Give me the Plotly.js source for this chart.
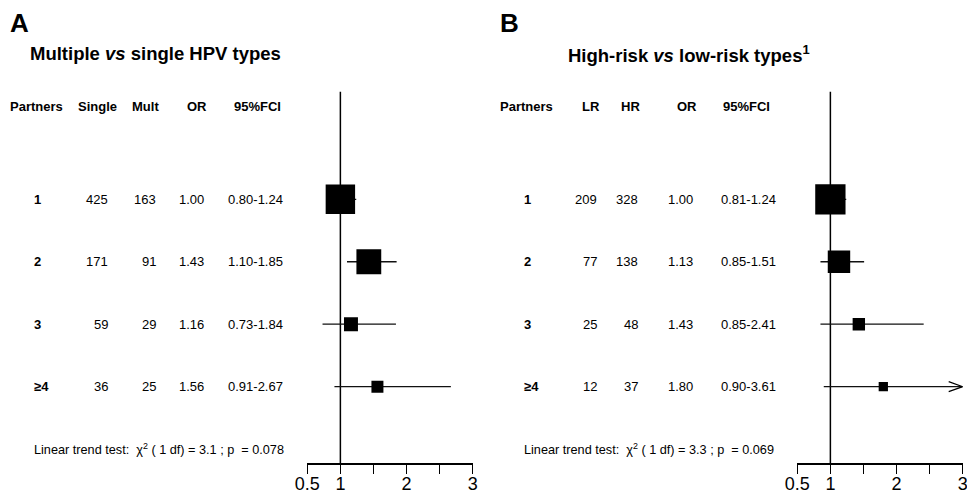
<!DOCTYPE html>
<html>
<head>
<meta charset="utf-8">
<script src="https://cdn.plot.ly/plotly-3.0.1.min.js"></script>
<style>html,body{margin:0;padding:0;background:#fff;}#chart{width:967px;height:496px;}</style>
</head>
<body>
<div id="chart"></div>
<script>
// ---------- data ----------
const partners = ["1", "2", "3", "≥4"];
// Panel A: multiple vs single HPV types
const singleCounts = [425, 171, 59, 36];
const multCounts = [163, 91, 29, 25];
const orA = [1.00, 1.43, 1.16, 1.56];
const loA = [0.80, 1.10, 0.73, 0.91];
const hiA = [1.24, 1.85, 1.84, 2.67];
const trendChi2A = "3.1";
const trendPA = "0.078";
// Panel B: high-risk vs low-risk types
const lrCounts = [209, 77, 25, 12];
const hrCounts = [328, 138, 48, 37];
const orB = [1.00, 1.13, 1.43, 1.80];
const loB = [0.81, 0.85, 0.85, 0.90];
const hiB = [1.24, 1.51, 2.41, 3.61];
const trendChi2B = "3.3";
const trendPB = "0.069";
// axis
const xRange = [0.5, 3];
const xTickVals = [0.5, 1, 2, 3];
const xTickText = ["0.5", "1", "2", "3"];
const xMinorStep = 0.5;

// ---------- layout helpers ----------
const W = 967, H = 496;
const FONT = "Liberation Sans, Arial, Helvetica, sans-serif";
const X = px => px / W;
const Y = px => 1 - px / H;
const rows = partners.map((_, i) => i + 1);

const annotations = [];
function txt(text, xpx, yval, yref, anchor, size, bold) {
  annotations.push({
    text: text, xref: "paper", x: X(xpx), yref: yref, y: yval,
    xanchor: anchor, yanchor: "middle", showarrow: false,
    font: {family: FONT, size: size, color: "#000", weight: bold ? "bold" : "normal"},
    borderpad: 0
  });
}

function panel(off, letter, title, titleX, heads, col1, col2, or, lo, hi, chi2, p) {
  txt(letter, 9 + off, Y(23), "paper", "left", 26, true);
  txt(title, titleX, Y(53.5), "paper", "left", 18.5, true);
  heads.forEach(h => txt(h[0], h[1] + off, Y(106.5), "paper", "left", 13, true));
  rows.forEach((r, i) => {
    txt(partners[i], 33 + off, r, "y", "left", 13, true);
    txt(String(col1[i]), col1.right + off, r, "y", "right", 13, false);
    txt(String(col2[i]), col2.right + off, r, "y", "right", 13, false);
    txt(or[i].toFixed(2), 205 + off - (off ? 1 : 0), r, "y", "right", 13, false);
    txt(lo[i].toFixed(2) + "-" + hi[i].toFixed(2), 227 + off + (off ? 3 : 0), r, "y", "left", 13, false);
  });
  txt("Linear trend test:  χ<sup>2</sup> ( 1 df) = " + chi2 + " ; p  = " + p,
      33 + off, Y(449), "paper", "left", 12.7, false);
}

const cA1 = singleCounts.slice(); cA1.right = 108.5;
const cA2 = multCounts.slice(); cA2.right = 157;
const cB1 = lrCounts.slice(); cB1.right = 108.3;
const cB2 = hrCounts.slice(); cB2.right = 149;

panel(0, "A", "Multiple <i>vs</i> single HPV types", 29,
  [["Partners", 9], ["Single", 77], ["Mult", 131], ["OR", 186], ["95%FCI", 233]],
  cA1, cA2, orA, loA, hiA, trendChi2A, trendPA);
panel(490, "B", "High-risk <i>vs</i> low-risk types<sup>1</sup>", 567,
  [["Partners", 9], ["LR", 90.7], ["HR", 130], ["OR", 186], ["95%FCI", 232]],
  cB1, cB2, orB, loB, hiB, trendChi2B, trendPB);

// marker size ~ inverse-variance weight (side ∝ 1/SE of log OR)
const boxSize = (lo, hi) => lo.map((l, i) => 12.9 / Math.log(hi[i] / l));

function ciTrace(lo, hi, xa) {
  const xs = [], ys = [];
  lo.forEach((l, i) => { xs.push(l, Math.min(hi[i], xRange[1]), null); ys.push(rows[i], rows[i], null); });
  return {type: "scatter", mode: "lines", xaxis: xa, yaxis: "y", x: xs, y: ys,
          line: {color: "#111", width: 1.3}, hoverinfo: "skip", showlegend: false};
}
function boxTrace(or, lo, hi, xa) {
  return {type: "scatter", mode: "markers", xaxis: xa, yaxis: "y", x: or, y: rows,
          marker: {symbol: "square", color: "#000", opacity: 1, size: boxSize(lo, hi), line: {width: 0}},
          hoverinfo: "skip", showlegend: false};
}

const data = [ciTrace(loA, hiA, "x"), boxTrace(orA, loA, hiA, "x"),
              ciTrace(loB, hiB, "x2"), boxTrace(orB, loB, hiB, "x2")];

const shapes = [];
["x", "x2"].forEach(xa => {
  shapes.push({type: "line", xref: xa, yref: "y domain", x0: 1, x1: 1, y0: 0, y1: 1,
               layer: "below", line: {color: "#000", width: 1.5}});
});
[[hiA, "x"], [hiB, "x2"]].forEach(([hi, xa]) => {
  hi.forEach((h, i) => {
    if (h > xRange[1]) {
      shapes.push({type: "path", xref: xa, yref: "y", xsizemode: "pixel", ysizemode: "pixel",
        xanchor: xRange[1], yanchor: rows[i], path: "M-14,-5 L0,0 L-14,5",
        line: {color: "#000", width: 1.2}});
    }
  });
});

const xaxisBase = {
  range: xRange, tickmode: "array", tickvals: xTickVals, ticktext: xTickText,
  showline: true, linecolor: "#000", linewidth: 1.5,
  ticks: "outside", ticklen: 9, tickwidth: 1.5, tickcolor: "#000",
  minor: {tick0: xRange[0], dtick: xMinorStep, ticks: "outside", ticklen: 9, tickwidth: 1.5, tickcolor: "#000", showgrid: false},
  ticklabelstandoff: -5, ticklabeloverflow: "allow",
  showgrid: false, zeroline: false, fixedrange: true,
  tickfont: {family: FONT, size: 18, color: "#000"}, anchor: "y"
};

const layout = {
  width: W, height: H,
  margin: {l: 0, r: 0, t: 0, b: 0},
  paper_bgcolor: "#fff", plot_bgcolor: "rgba(0,0,0,0)",
  showlegend: false,
  xaxis: Object.assign({}, xaxisBase, {domain: [X(307.3), X(472.7)]}),
  xaxis2: Object.assign({}, xaxisBase, {domain: [X(797.3), X(962.7)]}),
  yaxis: {range: [5.227, -0.723], domain: [Y(463.3), Y(91.7)], visible: false,
          showgrid: false, zeroline: false, fixedrange: true},
  annotations: annotations,
  shapes: shapes
};

Plotly.newPlot("chart", data, layout, {displayModeBar: false, staticPlot: true});
</script>
</body>
</html>
